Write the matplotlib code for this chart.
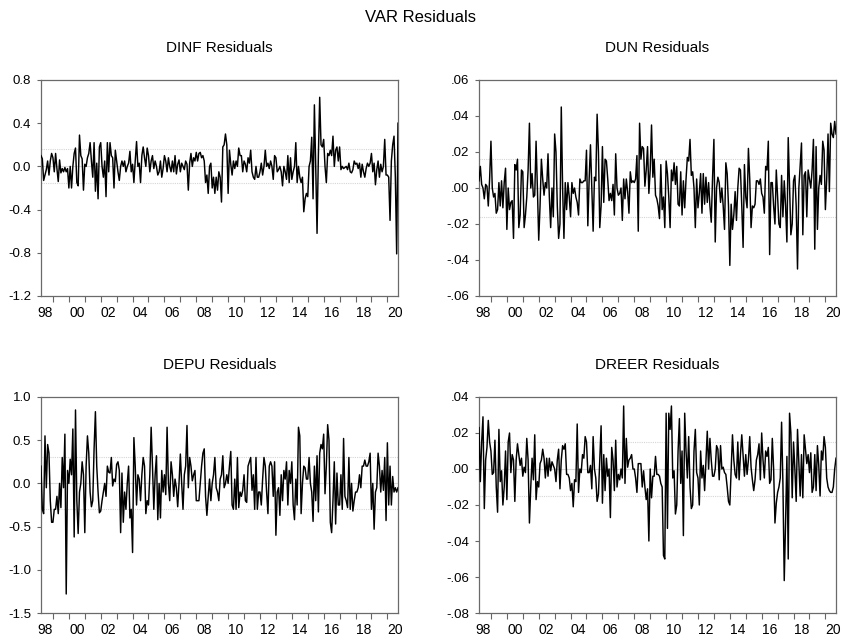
import numpy as np
import matplotlib
matplotlib.use("Agg")
import matplotlib.pyplot as plt
from matplotlib.ticker import FixedLocator, FuncFormatter

plt.rcParams['font.family'] = ['Liberation Sans', 'DejaVu Sans']
plt.rcParams['axes.unicode_minus'] = False

# monthly residuals, 1998M04 .. 2020M09
start_year = 1998.25

dinf = [
    0.10, 0.07, -0.13, -0.08, -0.03, 0.05, -0.08, 0.05, 0.12,
    0.08, -0.05, 0.12, -0.02, -0.14, 0.06, -0.06, -0.02, -0.05, -0.01, -0.05, -0.02,
    -0.20, 0.00, -0.20, 0.00, 0.12, 0.17, -0.15, -0.18, 0.29, 0.10, 0.07, -0.22,
    0.02, 0.00, 0.08, 0.12, 0.22, 0.05, -0.10, 0.22, -0.23, 0.03, -0.30, 0.18,
    0.22, 0.00, -0.10, 0.05, -0.28, 0.22, -0.05, 0.22, 0.10, 0.08, -0.20, 0.15,
    0.05, -0.05, -0.13, 0.00, 0.05, 0.00, 0.05, -0.05, 0.00, 0.03, 0.14, -0.05,
    0.02, -0.15, 0.05, 0.23, 0.00, 0.03, -0.15, 0.10, 0.18, 0.08, 0.00, 0.17,
    0.10, -0.05, 0.05, 0.10, -0.02, 0.05, 0.00, -0.08, -0.05, 0.05, -0.10, -0.02,
    0.10, 0.05, -0.05, 0.08, 0.00, -0.05, 0.05, -0.05, 0.10, -0.07, 0.02, 0.06,
    -0.05, 0.03, 0.00, -0.03, 0.05, 0.02, -0.22, 0.03, 0.12, 0.00, 0.08, 0.05,
    0.13, 0.05, 0.12, 0.13, 0.08, 0.10, 0.05, -0.15, -0.08, -0.25, 0.00, 0.03,
    -0.20, -0.10, -0.25, -0.10, -0.22, -0.05, -0.10, -0.33, 0.18, 0.20, 0.30, 0.20,
    -0.25, 0.15, 0.02, -0.08, 0.05, -0.02, 0.05, 0.00, 0.17, 0.10, 0.10, -0.05,
    0.05, 0.02, -0.05, 0.08, 0.03, 0.15, -0.05, -0.10, -0.12, 0.00, -0.10, -0.10,
    -0.05, 0.03, -0.08, 0.00, 0.15, 0.00, 0.03, -0.02, 0.05, 0.00, -0.12, 0.10,
    0.08, -0.05, -0.03, 0.00, -0.05, -0.18, 0.00, -0.05, -0.12, 0.10, -0.15, 0.08,
    -0.12, -0.05, 0.00, 0.22, -0.15, 0.00, -0.10, -0.15, -0.10, -0.42, -0.30, -0.25,
    -0.28, 0.00, 0.05, 0.27, -0.30, 0.57, 0.00, -0.62, 0.10, 0.64, 0.20, 0.18,
    0.25, 0.00, -0.15, 0.12, 0.10, 0.15, 0.10, 0.28, 0.00, 0.15, 0.18, 0.05,
    0.18, -0.03, 0.00, -0.02, -0.01, 0.00, -0.03, 0.03, -0.05, -0.06, -0.03, 0.05,
    0.02, 0.03, -0.02, 0.03, -0.10, 0.02, -0.05, -0.10, -0.02, 0.03, 0.00, 0.03,
    0.12, -0.05, 0.03, -0.17, -0.03, 0.05, -0.10, 0.02, -0.05, 0.00, 0.25, -0.08,
    -0.08, -0.10, -0.50, 0.05, 0.20, 0.28, -0.10, -0.81, 0.40,
]

dun = [
    0.004, 0.012, 0.002, 0.000, -0.006, 0.002, 0.001, -0.010, 0.005,
    0.026, 0.000, -0.005, -0.003, -0.014, -0.012, 0.003, -0.010, 0.004, -0.011, 0.003, 0.011,
    -0.023, 0.000, -0.012, -0.008, -0.007, -0.028, 0.013, 0.010, 0.016, -0.022, -0.015, 0.010,
    0.009, -0.022, -0.015, -0.005, 0.010, 0.036, 0.000, 0.008, -0.005, -0.004, 0.026, 0.000,
    -0.029, -0.010, 0.016, 0.005, -0.004, 0.003, 0.000, 0.019, -0.005, -0.022, 0.000, -0.016,
    0.030, 0.020, -0.010, -0.028, -0.020, 0.045, 0.000, -0.028, 0.003, -0.012, 0.003, -0.005,
    -0.016, 0.003, -0.003, 0.000, -0.005, -0.008, -0.015, 0.005, 0.003, 0.003, 0.004, 0.004,
    0.021, -0.021, 0.005, 0.024, 0.000, -0.024, 0.006, 0.004, 0.041, 0.020, -0.022, -0.010,
    0.023, -0.008, 0.016, 0.015, 0.005, -0.007, -0.003, -0.007, 0.002, -0.015, 0.019, 0.000,
    -0.004, -0.003, 0.000, -0.018, 0.005, -0.006, 0.005, -0.002, -0.014, 0.009, 0.003, 0.004,
    0.003, 0.005, 0.018, -0.024, 0.036, 0.016, 0.023, 0.022, 0.001, 0.010, 0.023, -0.003,
    0.010, 0.035, 0.006, 0.016, -0.004, -0.006, -0.010, -0.017, 0.013, -0.012, -0.005, -0.022,
    0.015, 0.008, -0.005, -0.022, 0.010, 0.004, 0.014, 0.002, 0.012, -0.009, -0.010, 0.009,
    -0.015, 0.004, -0.011, 0.005, 0.017, 0.015, 0.027, 0.007, 0.009, 0.000, -0.022, 0.005,
    -0.011, -0.003, 0.008, -0.014, 0.008, -0.009, 0.006, -0.008, 0.003, -0.010, -0.019, 0.006,
    0.027, -0.030, 0.000, 0.006, 0.003, -0.008, 0.000, -0.010, -0.023, 0.014, 0.008, -0.010,
    -0.043, -0.009, -0.023, -0.015, -0.002, -0.018, 0.000, 0.011, 0.010, -0.010, -0.033, 0.013,
    -0.005, -0.011, 0.022, 0.005, -0.022, -0.010, -0.011, -0.009, 0.004, 0.004, 0.002, 0.005,
    -0.003, -0.005, -0.014, 0.012, 0.010, 0.026, -0.037, 0.003, 0.003, -0.010, -0.020, 0.010,
    -0.005, -0.020, -0.022, 0.007, -0.016, 0.004, -0.010, -0.030, 0.028, 0.000, -0.026, -0.020,
    0.004, 0.007, -0.010, -0.045, 0.000, 0.012, 0.025, -0.026, 0.007, 0.009, -0.016, 0.010,
    0.005, 0.000, 0.010, 0.027, -0.034, 0.023, -0.023, 0.000, 0.007, 0.002, 0.026, 0.021,
    -0.012, 0.005, 0.030, -0.002, 0.036, 0.030, 0.028, 0.037, 0.030,
]

depu = [
    0.20, -0.30, -0.35, 0.55, -0.05, 0.45, 0.35, -0.20, -0.45,
    -0.45, -0.30, -0.30, -0.15, -0.35, 0.00, -0.28, 0.30, -0.05, 0.57, -1.28, 0.15,
    0.00, 0.28, 0.10, 0.63, -0.62, 0.85, -0.20, -0.58, -0.10, 0.00, 0.25, 0.10,
    -0.57, 0.20, 0.55, 0.35, -0.10, -0.27, -0.20, 0.40, 0.83, 0.20, -0.10, -0.34,
    -0.32, -0.20, -0.10, 0.00, -0.15, 0.20, 0.13, 0.12, 0.30, -0.03, 0.05, 0.02,
    0.22, 0.25, 0.15, -0.57, 0.12, -0.45, -0.10, -0.30, 0.00, 0.20, -0.40, -0.30,
    -0.80, 0.53, 0.20, -0.25, 0.10, 0.05, -0.20, 0.10, 0.30, 0.20, -0.35, -0.20,
    -0.25, 0.10, 0.65, 0.20, -0.30, 0.10, 0.32, -0.42, 0.00, -0.40, 0.15, -0.10,
    0.10, -0.13, 0.65, 0.00, -0.20, 0.25, 0.10, -0.15, 0.05, -0.05, -0.27, 0.00,
    0.34, 0.00, -0.30, 0.10, 0.20, 0.67, -0.05, 0.30, 0.20, 0.03, 0.10, 0.15,
    -0.20, -0.20, -0.20, 0.00, 0.20, 0.35, 0.40, -0.15, -0.37, -0.15, 0.05, -0.20,
    0.00, 0.10, 0.30, -0.05, -0.10, -0.20, 0.05, 0.10, 0.32, -0.05, 0.00, 0.10,
    0.00, 0.20, 0.37, -0.25, -0.30, 0.05, -0.30, 0.30, -0.28, -0.10, -0.15, -0.08,
    0.10, -0.20, -0.22, 0.20, 0.25, 0.30, -0.08, 0.10, -0.30, 0.30, -0.30, -0.10,
    -0.10, -0.25, 0.05, 0.30, 0.20, -0.10, -0.35, 0.20, 0.25, 0.20, -0.15, 0.25,
    -0.60, -0.10, -0.05, -0.37, 0.10, -0.20, 0.15, 0.05, 0.25, -0.25, 0.15, 0.00,
    0.25, -0.25, -0.42, 0.05, -0.25, 0.65, 0.55, -0.35, 0.00, 0.20, 0.18, 0.05,
    0.05, 0.30, 0.00, -0.10, -0.44, 0.20, -0.20, 0.32, -0.33, 0.35, 0.45, 0.40,
    0.57, -0.12, 0.20, 0.68, 0.50, -0.45, -0.57, -0.20, 0.25, -0.47, 0.12, -0.25,
    -0.25, 0.10, -0.30, 0.52, -0.15, -0.20, -0.28, 0.30, -0.30, 0.00, -0.32, -0.20,
    -0.10, -0.10, -0.05, 0.10, -0.05, 0.20, 0.20, 0.27, 0.20, 0.20, 0.25, 0.35,
    -0.30, 0.00, -0.53, -0.10, -0.05, 0.35, 0.20, -0.10, 0.15, -0.08, 0.30, -0.43,
    0.47, -0.25, 0.20, -0.25, 0.08, -0.10, -0.05, -0.10, -0.05,
]

dreer = [
    0.023, -0.007, 0.015, 0.029, -0.022, 0.005, 0.012, 0.027, 0.015,
    0.010, -0.003, -0.002, 0.016, -0.010, -0.024, 0.022, -0.007, -0.001, -0.020, -0.010, 0.010,
    -0.017, 0.015, 0.020, -0.002, 0.008, 0.005, -0.018, 0.005, 0.014, 0.008, 0.002, 0.006,
    -0.004, 0.001, -0.002, 0.017, 0.005, -0.030, -0.010, 0.006, -0.006, 0.019, -0.017, -0.007,
    -0.010, 0.003, 0.005, 0.011, 0.006, -0.005, 0.006, -0.004, 0.006, -0.001, 0.004, 0.002,
    0.000, -0.007, 0.005, 0.011, -0.011, 0.005, 0.013, 0.011, 0.014, -0.003, -0.003, -0.005,
    -0.012, -0.008, -0.021, -0.006, -0.007, 0.025, -0.013, 0.000, -0.002, 0.008, 0.006, 0.018,
    0.015, -0.002, -0.002, 0.002, -0.011, 0.018, 0.000, -0.005, -0.018, -0.014, 0.005, 0.024,
    -0.019, 0.008, -0.012, 0.006, -0.004, 0.000, -0.027, 0.012, 0.005, -0.012, 0.016, -0.010,
    -0.003, -0.006, 0.000, -0.005, 0.035, -0.008, 0.017, 0.001, 0.005, 0.006, 0.008, 0.000,
    0.000, -0.005, -0.013, 0.003, 0.003, 0.003, -0.010, -0.001, -0.010, -0.017, -0.011, -0.040,
    0.000, -0.016, -0.004, -0.004, 0.007, -0.003, -0.003, -0.004, -0.008, -0.010, -0.048, -0.050,
    0.031, -0.033, 0.031, 0.022, 0.035, -0.005, -0.001, -0.025, -0.020, 0.010, 0.028, -0.008,
    0.010, -0.037, 0.031, 0.010, -0.005, 0.018, -0.010, -0.022, -0.020, 0.010, 0.022, -0.002,
    -0.005, -0.020, 0.010, -0.005, 0.002, -0.012, 0.005, 0.021, 0.000, 0.017, 0.005, -0.004,
    -0.004, 0.000, 0.013, 0.011, -0.006, 0.013, 0.000, 0.001, -0.002, -0.003, -0.010, -0.018,
    -0.020, 0.000, 0.019, 0.005, -0.003, -0.005, 0.015, -0.006, 0.008, 0.019, 0.007, -0.004,
    0.008, -0.003, 0.005, 0.018, 0.001, -0.006, -0.012, -0.006, 0.005, 0.008, 0.014, -0.006,
    0.020, 0.005, -0.005, 0.010, 0.007, 0.012, -0.008, -0.006, 0.017, 0.000, -0.030, -0.019,
    -0.013, -0.010, -0.005, 0.026, -0.008, -0.062, -0.030, 0.007, -0.050, 0.031, 0.020, -0.016,
    0.015, 0.000, -0.018, 0.022, 0.004, -0.015, 0.008, -0.016, 0.019, 0.011, 0.003, 0.008,
    -0.002, 0.009, -0.013, -0.010, 0.008, -0.012, 0.013, 0.002, -0.015, 0.010, 0.005, 0.018,
    0.012, -0.005, -0.010, -0.012, -0.013, -0.013, -0.010, 0.000, 0.006,
]

titles = ['DINF Residuals', 'DUN Residuals', 'DEPU Residuals', 'DREER Residuals']
ylims = [(-1.2, 0.8), (-0.06, 0.06), (-1.5, 1.0), (-0.08, 0.04)]
yticks = [
    [-1.2, -0.8, -0.4, 0.0, 0.4, 0.8],
    [-0.06, -0.04, -0.02, 0.0, 0.02, 0.04, 0.06],
    [-1.5, -1.0, -0.5, 0.0, 0.5, 1.0],
    [-0.08, -0.06, -0.04, -0.02, 0.0, 0.02, 0.04],
]
bands = [0.157, 0.016, 0.30, 0.015]
series = [dinf, dun, depu, dreer]


def fmt_one(v, pos):
    return '%.1f' % v


def fmt_nozero(v, pos):
    s = '%.2f' % v
    return s.replace('0.', '.', 1)


formatters = [fmt_one, fmt_nozero, fmt_one, fmt_nozero]

W, H = 841, 639
fig = plt.figure(figsize=(W / 100, H / 100), dpi=100)

# axes boxes in pixels: left, top, right, bottom
boxes = [(41, 80, 398, 296), (479, 80, 836, 296),
         (41, 397, 398, 613), (479, 397, 836, 613)]
title_y = [48, 48, 365, 365]

fig.text(0.5, 1 - 17 / H, 'VAR Residuals', ha='center', va='center', fontsize=12)

for i in range(4):
    l, t, r, b = boxes[i]
    ax = fig.add_axes([l / W, 1 - b / H, (r - l) / W, (b - t) / H])
    y = np.array(series[i])
    x = start_year + np.arange(len(y)) / 12.0

    ax.axhline(0, color='#dadada', lw=0.8, zorder=1)
    ax.axhline(bands[i], color='#d6d6d6', lw=0.8, ls=(0, (1, 1)), zorder=1)
    ax.axhline(-bands[i], color='#d6d6d6', lw=0.8, ls=(0, (1, 1)), zorder=1)
    ax.plot(x, y, color='black', lw=1.05, zorder=3)

    ax.set_xlim(start_year, start_year + 269 / 12.0)
    ax.set_ylim(*ylims[i])
    ax.set_yticks(yticks[i])
    ax.yaxis.set_major_formatter(FuncFormatter(formatters[i]))

    # year ticks at January, labels centred on even years
    ax.xaxis.set_major_locator(FixedLocator(np.arange(1999, 2021)))
    ax.xaxis.set_major_formatter(FuncFormatter(lambda v, p: ''))
    ax.xaxis.set_minor_locator(FixedLocator(np.arange(1998, 2021, 2) + 0.5))
    ax.xaxis.set_minor_formatter(FuncFormatter(lambda v, p: '%02d' % (int(v) % 100)))
    ax.tick_params(axis='x', which='minor', length=0, labelsize=10, pad=7.5)
    ax.tick_params(axis='x', which='major', length=4, width=0.8, color='#666666')
    ax.tick_params(axis='y', length=3, width=0.8, color='#666666', labelsize=9.5, pad=4)

    for s in ax.spines.values():
        s.set_color('#6a6a6a')
        s.set_linewidth(0.9)

    fig.text((l + r) / 2 / W, 1 - title_y[i] / H, titles[i],
             ha='center', va='center', fontsize=11)

fig.savefig('out.png', dpi=100)
